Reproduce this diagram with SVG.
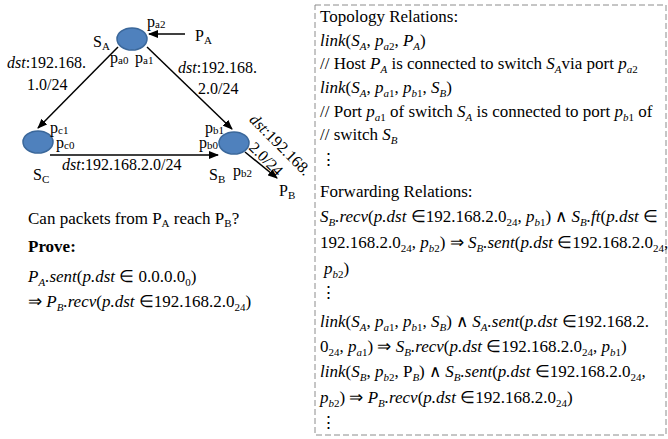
<svg xmlns="http://www.w3.org/2000/svg" width="668" height="439" viewBox="0 0 668 439">
<style>
.node{fill:#4F81BD;stroke:#3A679A;stroke-width:1.5}
.edge{stroke:#000;stroke-width:1.5;fill:none;marker-end:url(#ah)}
.box{fill:none;stroke:#8c8c8c;stroke-width:1;stroke-dasharray:6 3}
text, tspan{font-family:'Liberation Serif' !important}
</style>
<defs>
<marker id="ah" viewBox="0 0 10 8" refX="9" refY="4" markerWidth="10" markerHeight="8" markerUnits="userSpaceOnUse" orient="auto"><path d="M0,0 L10,4 L0,8 z" fill="#000"/></marker>
</defs>
<rect width="668" height="439" fill="#fff"/>

<g id="connectors">
<line class="edge" x1="118" y1="47" x2="38" y2="128"/>
<line class="edge" x1="147" y1="47" x2="232" y2="129"/>
<line class="edge" x1="50" y1="155" x2="218" y2="155"/>
<line class="edge" x1="185" y1="34" x2="149" y2="34"/>
<line class="edge" x1="245" y1="152" x2="277" y2="178"/>
<text style="font-family:'Liberation Serif' !important" font-size="16" x="7" y="68"><tspan style="font-family:'Liberation Serif' !important" font-style="italic">dst</tspan>:192.168.</text>
<text style="font-family:'Liberation Serif' !important" font-size="16" x="27" y="90">1.0/24</text>
<text style="font-family:'Liberation Serif' !important" font-size="16" x="178" y="73"><tspan style="font-family:'Liberation Serif' !important" font-style="italic">dst</tspan>:192.168.</text>
<text style="font-family:'Liberation Serif' !important" font-size="16" x="198" y="94">2.0/24</text>
<text style="font-family:'Liberation Serif' !important" font-size="16" x="62" y="170"><tspan style="font-family:'Liberation Serif' !important" font-style="italic">dst</tspan>:192.168.2.0/24</text>
<g transform="translate(280,145) rotate(45)">
<text style="font-family:'Liberation Serif' !important" font-size="16" text-anchor="middle" x="0" y="5"><tspan style="font-family:'Liberation Serif' !important" font-style="italic">dst</tspan>:192.168.</text>
<text style="font-family:'Liberation Serif' !important" font-size="16" text-anchor="middle" x="0" y="25">2.0/24</text>
</g>
</g>

<g id="SA">
<ellipse class="node" cx="132" cy="39" rx="15" ry="11"/>
<text style="font-family:'Liberation Serif' !important" font-size="16" x="93" y="47">S<tspan style="font-family:'Liberation Serif' !important" font-size="11" dy="3">A</tspan></text>
<text style="font-family:'Liberation Serif' !important" font-size="16" x="147" y="27">p<tspan style="font-family:'Liberation Serif' !important" font-size="11" dy="1">a2</tspan></text>
<text style="font-family:'Liberation Serif' !important" font-size="16" x="110" y="63">p<tspan style="font-family:'Liberation Serif' !important" font-size="11" dy="1">a0</tspan></text>
<text style="font-family:'Liberation Serif' !important" font-size="16" x="135" y="63">p<tspan style="font-family:'Liberation Serif' !important" font-size="11" dy="1">a1</tspan></text>
</g>
<g id="SC">
<ellipse class="node" cx="38" cy="142" rx="15" ry="11"/>
<text style="font-family:'Liberation Serif' !important" font-size="16" x="33" y="180">S<tspan style="font-family:'Liberation Serif' !important" font-size="11" dy="3">C</tspan></text>
<text style="font-family:'Liberation Serif' !important" font-size="16" x="50" y="133">p<tspan style="font-family:'Liberation Serif' !important" font-size="11" dy="1">c1</tspan></text>
<text style="font-family:'Liberation Serif' !important" font-size="16" x="56" y="148">p<tspan style="font-family:'Liberation Serif' !important" font-size="11" dy="1">c0</tspan></text>
</g>
<g id="SB">
<ellipse class="node" cx="234" cy="143" rx="15" ry="11"/>
<text style="font-family:'Liberation Serif' !important" font-size="16" x="209" y="180">S<tspan style="font-family:'Liberation Serif' !important" font-size="11" dy="3">B</tspan></text>
<text style="font-family:'Liberation Serif' !important" font-size="16" x="205" y="133">p<tspan style="font-family:'Liberation Serif' !important" font-size="11" dy="1">b1</tspan></text>
<text style="font-family:'Liberation Serif' !important" font-size="16" x="199" y="148">p<tspan style="font-family:'Liberation Serif' !important" font-size="11" dy="1">b0</tspan></text>
<text style="font-family:'Liberation Serif' !important" font-size="16" x="233" y="176">p<tspan style="font-family:'Liberation Serif' !important" font-size="11" dy="1">b2</tspan></text>
</g>
<g id="PA">
<text style="font-family:'Liberation Serif' !important" font-size="16" x="195" y="41">P<tspan style="font-family:'Liberation Serif' !important" font-size="11" dy="3">A</tspan></text>
</g>
<g id="PB">
<text style="font-family:'Liberation Serif' !important" font-size="16" x="279" y="196">P<tspan style="font-family:'Liberation Serif' !important" font-size="11" dy="3">B</tspan></text>
</g>

<g id="question">
<text style="font-family:'Liberation Serif' !important" font-size="17" x="28" y="224">Can packets from P<tspan style="font-family:'Liberation Serif' !important" font-size="11" dy="3">A</tspan><tspan style="font-family:'Liberation Serif' !important" dy="-3"> reach P</tspan><tspan style="font-family:'Liberation Serif' !important" font-size="11" dy="3">B</tspan><tspan style="font-family:'Liberation Serif' !important" dy="-3">?</tspan></text>
<text style="font-family:'Liberation Serif' !important" font-size="17" font-weight="bold" x="28" y="252">Prove:</text>
<text style="font-family:'Liberation Serif' !important" font-size="17" x="28" y="282"><tspan style="font-family:'Liberation Serif' !important" font-style="italic">P</tspan><tspan style="font-family:'Liberation Serif' !important" font-size="11" font-style="italic" dy="4">A</tspan><tspan style="font-family:'Liberation Serif' !important" font-style="italic" dy="-4">.sent</tspan>(<tspan style="font-family:'Liberation Serif' !important" font-style="italic">p.dst</tspan> ∈ 0.0.0.0<tspan style="font-family:'Liberation Serif' !important" font-size="11" dy="4">0</tspan><tspan style="font-family:'Liberation Serif' !important" dy="-4">)</tspan></text>
<text style="font-family:'Liberation Serif' !important" font-size="17" x="28" y="307">⇒ <tspan style="font-family:'Liberation Serif' !important" font-style="italic">P</tspan><tspan style="font-family:'Liberation Serif' !important" font-size="11" font-style="italic" dy="4">B</tspan><tspan style="font-family:'Liberation Serif' !important" font-style="italic" dy="-4">.recv</tspan>(<tspan style="font-family:'Liberation Serif' !important" font-style="italic">p.dst</tspan> ∈192.168.2.0<tspan style="font-family:'Liberation Serif' !important" font-size="11" dy="4">24</tspan><tspan style="font-family:'Liberation Serif' !important" dy="-4">)</tspan></text>
</g>

<g id="relations">
<rect class="box" x="315" y="5" width="351" height="430"/>
<text style="font-family:'Liberation Serif' !important" font-size="17" x="320" y="22">Topology Relations:</text>
<text style="font-family:'Liberation Serif' !important" font-size="17" x="320" y="46"><tspan style="font-family:'Liberation Serif' !important" font-style="italic">link</tspan>(<tspan style="font-family:'Liberation Serif' !important" font-style="italic">S</tspan><tspan style="font-family:'Liberation Serif' !important" font-size="11" font-style="italic" dy="4">A</tspan><tspan style="font-family:'Liberation Serif' !important" dy="-4">, </tspan><tspan style="font-family:'Liberation Serif' !important" font-style="italic">p</tspan><tspan style="font-family:'Liberation Serif' !important" font-size="11" font-style="italic" dy="4">a</tspan><tspan style="font-family:'Liberation Serif' !important" font-size="11">2</tspan><tspan style="font-family:'Liberation Serif' !important" dy="-4">, </tspan><tspan style="font-family:'Liberation Serif' !important" font-style="italic">P</tspan><tspan style="font-family:'Liberation Serif' !important" font-size="11" font-style="italic" dy="4">A</tspan><tspan style="font-family:'Liberation Serif' !important" dy="-4">)</tspan></text>
<text style="font-family:'Liberation Serif' !important" font-size="17" x="320" y="69">// Host <tspan style="font-family:'Liberation Serif' !important" font-style="italic">P</tspan><tspan style="font-family:'Liberation Serif' !important" font-size="11" font-style="italic" dy="4">A</tspan><tspan style="font-family:'Liberation Serif' !important" dy="-4"> is connected to switch </tspan><tspan style="font-family:'Liberation Serif' !important" font-style="italic">S</tspan><tspan style="font-family:'Liberation Serif' !important" font-size="11" font-style="italic" dy="4">A</tspan><tspan style="font-family:'Liberation Serif' !important" dy="-4">via port </tspan><tspan style="font-family:'Liberation Serif' !important" font-style="italic">p</tspan><tspan style="font-family:'Liberation Serif' !important" font-size="11" font-style="italic" dy="4">a</tspan><tspan style="font-family:'Liberation Serif' !important" font-size="11">2</tspan></text>
<text style="font-family:'Liberation Serif' !important" font-size="17" x="320" y="93"><tspan style="font-family:'Liberation Serif' !important" font-style="italic">link</tspan>(<tspan style="font-family:'Liberation Serif' !important" font-style="italic">S</tspan><tspan style="font-family:'Liberation Serif' !important" font-size="11" font-style="italic" dy="4">A</tspan><tspan style="font-family:'Liberation Serif' !important" dy="-4">, </tspan><tspan style="font-family:'Liberation Serif' !important" font-style="italic">p</tspan><tspan style="font-family:'Liberation Serif' !important" font-size="11" font-style="italic" dy="4">a</tspan><tspan style="font-family:'Liberation Serif' !important" font-size="11">1</tspan><tspan style="font-family:'Liberation Serif' !important" dy="-4">, </tspan><tspan style="font-family:'Liberation Serif' !important" font-style="italic">p</tspan><tspan style="font-family:'Liberation Serif' !important" font-size="11" font-style="italic" dy="4">b</tspan><tspan style="font-family:'Liberation Serif' !important" font-size="11">1</tspan><tspan style="font-family:'Liberation Serif' !important" dy="-4">, </tspan><tspan style="font-family:'Liberation Serif' !important" font-style="italic">S</tspan><tspan style="font-family:'Liberation Serif' !important" font-size="11" font-style="italic" dy="4">B</tspan><tspan style="font-family:'Liberation Serif' !important" dy="-4">)</tspan></text>
<text style="font-family:'Liberation Serif' !important" font-size="17" x="320" y="117">// Port <tspan style="font-family:'Liberation Serif' !important" font-style="italic">p</tspan><tspan style="font-family:'Liberation Serif' !important" font-size="11" font-style="italic" dy="4">a</tspan><tspan style="font-family:'Liberation Serif' !important" font-size="11">1</tspan><tspan style="font-family:'Liberation Serif' !important" dy="-4"> of switch </tspan><tspan style="font-family:'Liberation Serif' !important" font-style="italic">S</tspan><tspan style="font-family:'Liberation Serif' !important" font-size="11" font-style="italic" dy="4">A</tspan><tspan style="font-family:'Liberation Serif' !important" dy="-4"> is connected to port </tspan><tspan style="font-family:'Liberation Serif' !important" font-style="italic">p</tspan><tspan style="font-family:'Liberation Serif' !important" font-size="11" font-style="italic" dy="4">b</tspan><tspan style="font-family:'Liberation Serif' !important" font-size="11">1</tspan><tspan style="font-family:'Liberation Serif' !important" dy="-4"> of</tspan></text>
<text style="font-family:'Liberation Serif' !important" font-size="17" x="320" y="140">// switch <tspan style="font-family:'Liberation Serif' !important" font-style="italic">S</tspan><tspan style="font-family:'Liberation Serif' !important" font-size="11" font-style="italic" dy="4">B</tspan></text>
<text style="font-family:'Liberation Serif' !important" font-size="17" x="320" y="165">⋮</text>
<text style="font-family:'Liberation Serif' !important" font-size="17" x="320" y="197">Forwarding Relations:</text>
<text style="font-family:'Liberation Serif' !important" font-size="17" x="320" y="222"><tspan style="font-family:'Liberation Serif' !important" font-style="italic">S</tspan><tspan style="font-family:'Liberation Serif' !important" font-size="11" font-style="italic" dy="4">B</tspan><tspan style="font-family:'Liberation Serif' !important" font-style="italic" dy="-4">.recv</tspan>(<tspan style="font-family:'Liberation Serif' !important" font-style="italic">p.dst</tspan> ∈192.168.2.0<tspan style="font-family:'Liberation Serif' !important" font-size="11" dy="4">24</tspan><tspan style="font-family:'Liberation Serif' !important" dy="-4">, </tspan><tspan style="font-family:'Liberation Serif' !important" font-style="italic">p</tspan><tspan style="font-family:'Liberation Serif' !important" font-size="11" font-style="italic" dy="4">b</tspan><tspan style="font-family:'Liberation Serif' !important" font-size="11">1</tspan><tspan style="font-family:'Liberation Serif' !important" dy="-4">)  ∧ </tspan><tspan style="font-family:'Liberation Serif' !important" font-style="italic">S</tspan><tspan style="font-family:'Liberation Serif' !important" font-size="11" font-style="italic" dy="4">B</tspan><tspan style="font-family:'Liberation Serif' !important" font-style="italic" dy="-4">.ft</tspan>(<tspan style="font-family:'Liberation Serif' !important" font-style="italic">p.dst</tspan> ∈</text>
<text style="font-family:'Liberation Serif' !important" font-size="17" x="320" y="248">192.168.2.0<tspan style="font-family:'Liberation Serif' !important" font-size="11" dy="4">24</tspan><tspan style="font-family:'Liberation Serif' !important" dy="-4">, </tspan><tspan style="font-family:'Liberation Serif' !important" font-style="italic">p</tspan><tspan style="font-family:'Liberation Serif' !important" font-size="11" font-style="italic" dy="4">b</tspan><tspan style="font-family:'Liberation Serif' !important" font-size="11">2</tspan><tspan style="font-family:'Liberation Serif' !important" dy="-4">) ⇒ </tspan><tspan style="font-family:'Liberation Serif' !important" font-style="italic">S</tspan><tspan style="font-family:'Liberation Serif' !important" font-size="11" font-style="italic" dy="4">B</tspan><tspan style="font-family:'Liberation Serif' !important" font-style="italic" dy="-4">.sent</tspan>(<tspan style="font-family:'Liberation Serif' !important" font-style="italic">p.dst</tspan> ∈192.168.2.0<tspan style="font-family:'Liberation Serif' !important" font-size="11" dy="4">24</tspan><tspan style="font-family:'Liberation Serif' !important" dy="-4">,</tspan></text>
<text style="font-family:'Liberation Serif' !important" font-size="17" x="324" y="274"><tspan style="font-family:'Liberation Serif' !important" font-style="italic">p</tspan><tspan style="font-family:'Liberation Serif' !important" font-size="11" font-style="italic" dy="4">b</tspan><tspan style="font-family:'Liberation Serif' !important" font-size="11">2</tspan><tspan style="font-family:'Liberation Serif' !important" dy="-4">)</tspan></text>
<text style="font-family:'Liberation Serif' !important" font-size="17" x="320" y="298">⋮</text>
<text style="font-family:'Liberation Serif' !important" font-size="17" x="320" y="327"><tspan style="font-family:'Liberation Serif' !important" font-style="italic">link</tspan>(<tspan style="font-family:'Liberation Serif' !important" font-style="italic">S</tspan><tspan style="font-family:'Liberation Serif' !important" font-size="11" font-style="italic" dy="4">A</tspan><tspan style="font-family:'Liberation Serif' !important" dy="-4">, </tspan><tspan style="font-family:'Liberation Serif' !important" font-style="italic">p</tspan><tspan style="font-family:'Liberation Serif' !important" font-size="11" font-style="italic" dy="4">a</tspan><tspan style="font-family:'Liberation Serif' !important" font-size="11">1</tspan><tspan style="font-family:'Liberation Serif' !important" dy="-4">, </tspan><tspan style="font-family:'Liberation Serif' !important" font-style="italic">p</tspan><tspan style="font-family:'Liberation Serif' !important" font-size="11" font-style="italic" dy="4">b</tspan><tspan style="font-family:'Liberation Serif' !important" font-size="11">1</tspan><tspan style="font-family:'Liberation Serif' !important" dy="-4">, </tspan><tspan style="font-family:'Liberation Serif' !important" font-style="italic">S</tspan><tspan style="font-family:'Liberation Serif' !important" font-size="11" font-style="italic" dy="4">B</tspan><tspan style="font-family:'Liberation Serif' !important" dy="-4">) ∧ </tspan><tspan style="font-family:'Liberation Serif' !important" font-style="italic">S</tspan><tspan style="font-family:'Liberation Serif' !important" font-size="11" font-style="italic" dy="4">A</tspan><tspan style="font-family:'Liberation Serif' !important" font-style="italic" dy="-4">.sent</tspan>(<tspan style="font-family:'Liberation Serif' !important" font-style="italic">p.dst</tspan> ∈192.168.2.</text>
<text style="font-family:'Liberation Serif' !important" font-size="17" x="320" y="352">0<tspan style="font-family:'Liberation Serif' !important" font-size="11" dy="4">24</tspan><tspan style="font-family:'Liberation Serif' !important" dy="-4">, </tspan><tspan style="font-family:'Liberation Serif' !important" font-style="italic">p</tspan><tspan style="font-family:'Liberation Serif' !important" font-size="11" font-style="italic" dy="4">a</tspan><tspan style="font-family:'Liberation Serif' !important" font-size="11">1</tspan><tspan style="font-family:'Liberation Serif' !important" dy="-4">) ⇒ </tspan><tspan style="font-family:'Liberation Serif' !important" font-style="italic">S</tspan><tspan style="font-family:'Liberation Serif' !important" font-size="11" font-style="italic" dy="4">B</tspan><tspan style="font-family:'Liberation Serif' !important" font-style="italic" dy="-4">.recv</tspan>(<tspan style="font-family:'Liberation Serif' !important" font-style="italic">p.dst</tspan> ∈192.168.2.0<tspan style="font-family:'Liberation Serif' !important" font-size="11" dy="4">24</tspan><tspan style="font-family:'Liberation Serif' !important" dy="-4">, </tspan><tspan style="font-family:'Liberation Serif' !important" font-style="italic">p</tspan><tspan style="font-family:'Liberation Serif' !important" font-size="11" font-style="italic" dy="4">b</tspan><tspan style="font-family:'Liberation Serif' !important" font-size="11">1</tspan><tspan style="font-family:'Liberation Serif' !important" dy="-4">)</tspan></text>
<text style="font-family:'Liberation Serif' !important" font-size="17" x="320" y="377"><tspan style="font-family:'Liberation Serif' !important" font-style="italic">link</tspan>(<tspan style="font-family:'Liberation Serif' !important" font-style="italic">S</tspan><tspan style="font-family:'Liberation Serif' !important" font-size="11" font-style="italic" dy="4">B</tspan><tspan style="font-family:'Liberation Serif' !important" dy="-4">, </tspan><tspan style="font-family:'Liberation Serif' !important" font-style="italic">p</tspan><tspan style="font-family:'Liberation Serif' !important" font-size="11" font-style="italic" dy="4">b</tspan><tspan style="font-family:'Liberation Serif' !important" font-size="11">2</tspan><tspan style="font-family:'Liberation Serif' !important" dy="-4">, P</tspan><tspan style="font-family:'Liberation Serif' !important" font-size="11" font-style="italic" dy="4">B</tspan><tspan style="font-family:'Liberation Serif' !important" dy="-4">) ∧ </tspan><tspan style="font-family:'Liberation Serif' !important" font-style="italic">S</tspan><tspan style="font-family:'Liberation Serif' !important" font-size="11" font-style="italic" dy="4">B</tspan><tspan style="font-family:'Liberation Serif' !important" font-style="italic" dy="-4">.sent</tspan>(<tspan style="font-family:'Liberation Serif' !important" font-style="italic">p.dst</tspan> ∈192.168.2.0<tspan style="font-family:'Liberation Serif' !important" font-size="11" dy="4">24</tspan><tspan style="font-family:'Liberation Serif' !important" dy="-4">,</tspan></text>
<text style="font-family:'Liberation Serif' !important" font-size="17" x="320" y="403"><tspan style="font-family:'Liberation Serif' !important" font-style="italic">p</tspan><tspan style="font-family:'Liberation Serif' !important" font-size="11" font-style="italic" dy="4">b</tspan><tspan style="font-family:'Liberation Serif' !important" font-size="11">2</tspan><tspan style="font-family:'Liberation Serif' !important" dy="-4">) ⇒ </tspan><tspan style="font-family:'Liberation Serif' !important" font-style="italic">P</tspan><tspan style="font-family:'Liberation Serif' !important" font-size="11" font-style="italic" dy="4">B</tspan><tspan style="font-family:'Liberation Serif' !important" font-style="italic" dy="-4">.recv</tspan>(<tspan style="font-family:'Liberation Serif' !important" font-style="italic">p.dst</tspan> ∈192.168.2.0<tspan style="font-family:'Liberation Serif' !important" font-size="11" dy="4">24</tspan><tspan style="font-family:'Liberation Serif' !important" dy="-4">)</tspan></text>
<text style="font-family:'Liberation Serif' !important" font-size="17" x="320" y="428">⋮</text>
</g>
</svg>
